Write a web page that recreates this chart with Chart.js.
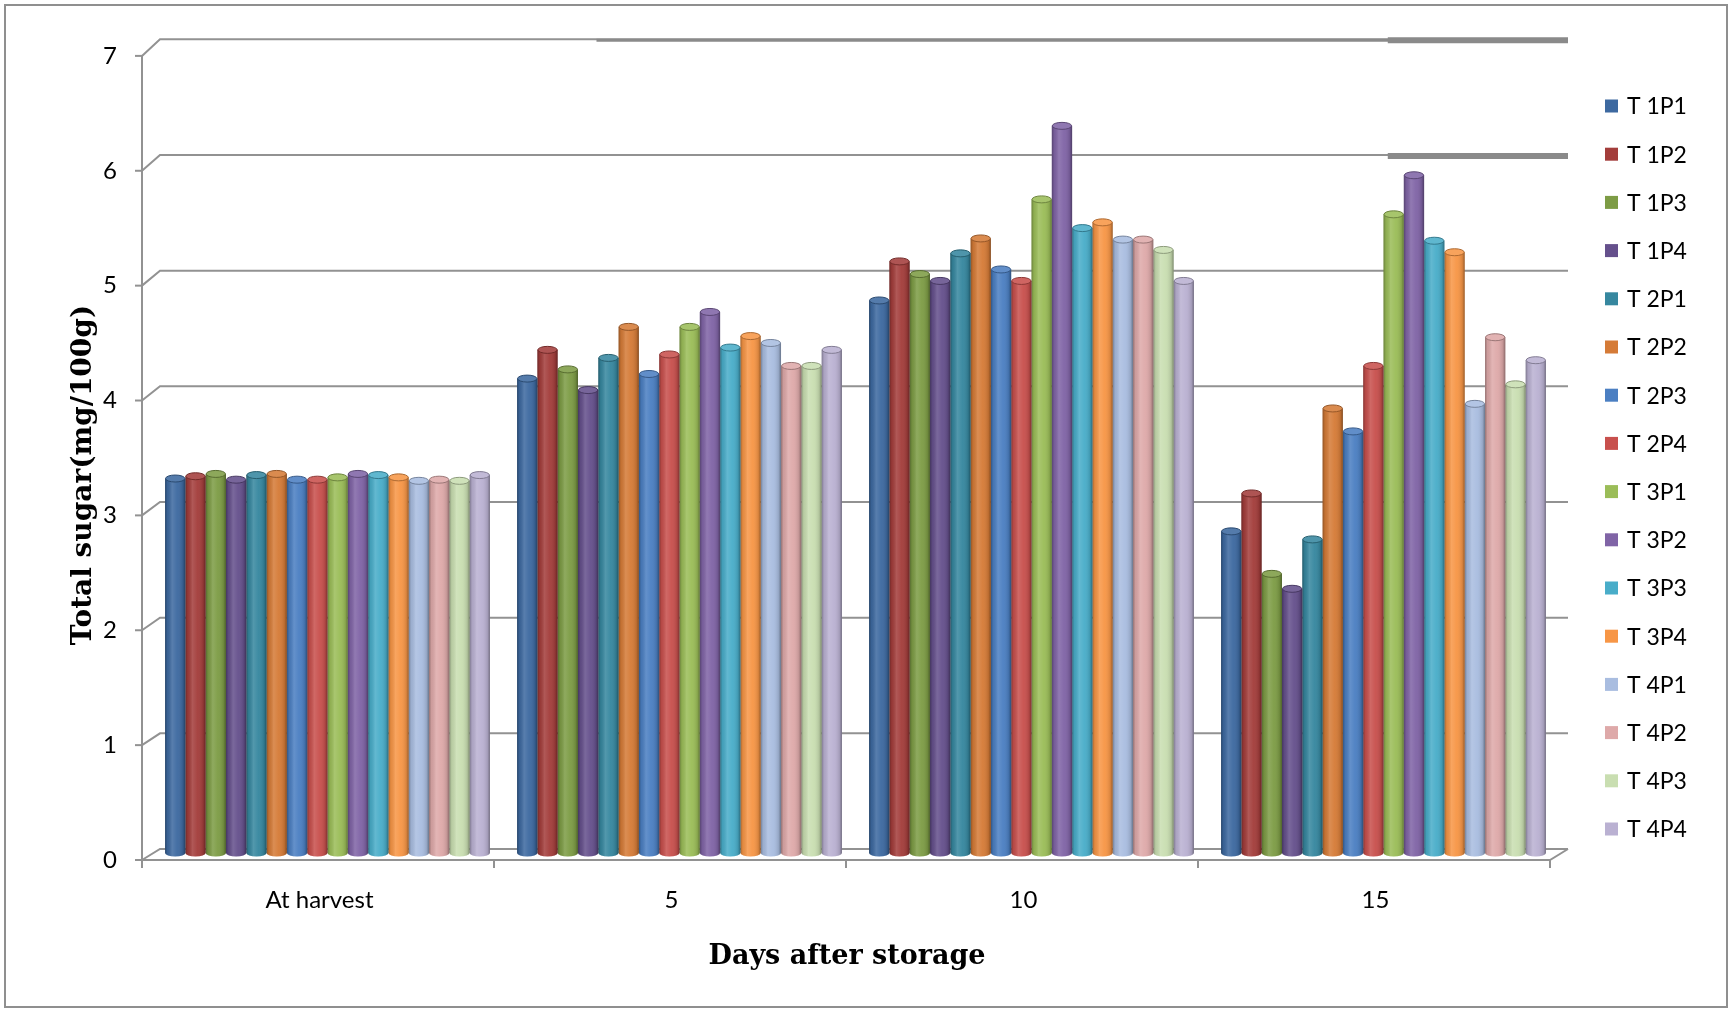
<!DOCTYPE html>
<html>
<head>
<meta charset="utf-8">
<title>Total sugar during storage</title>
<script src="https://cdn.jsdelivr.net/npm/chart.js@4.4.1/dist/chart.umd.min.js"></script>
<style>
  html, body { margin: 0; padding: 0; background: #ffffff; }
  canvas { display: block; }
</style>
</head>
<body>
<canvas id="sugarChart" width="1732" height="1013"></canvas>
<script>
// Storage days (category axis)
const categories = ['At harvest', '5', '10', '15'];

// Treatment series: total sugar (mg/100g) at each storage time
const seriesNames = ['T 1P1', 'T 1P2', 'T 1P3', 'T 1P4', 'T 2P1', 'T 2P2', 'T 2P3', 'T 2P4',
                     'T 3P1', 'T 3P2', 'T 3P3', 'T 3P4', 'T 4P1', 'T 4P2', 'T 4P3', 'T 4P4'];
const t1p1 = [3.26, 4.13, 4.81, 2.80];
const t1p2 = [3.28, 4.38, 5.15, 3.13];
const t1p3 = [3.30, 4.21, 5.04, 2.43];
const t1p4 = [3.25, 4.03, 4.98, 2.30];
const t2p1 = [3.29, 4.31, 5.22, 2.73];
const t2p2 = [3.30, 4.58, 5.35, 3.87];
const t2p3 = [3.25, 4.17, 5.08, 3.67];
const t2p4 = [3.25, 4.34, 4.98, 4.24];
const t3p1 = [3.27, 4.58, 5.69, 5.56];
const t3p2 = [3.30, 4.71, 6.33, 5.90];
const t3p3 = [3.29, 4.40, 5.44, 5.33];
const t3p4 = [3.27, 4.50, 5.49, 5.23];
const t4p1 = [3.24, 4.44, 5.34, 3.91];
const t4p2 = [3.25, 4.24, 5.34, 4.49];
const t4p3 = [3.24, 4.24, 5.25, 4.08];
const t4p4 = [3.29, 4.38, 4.98, 4.29];
const seriesValues = [t1p1, t1p2, t1p3, t1p4, t2p1, t2p2, t2p3, t2p4,
                      t3p1, t3p2, t3p3, t3p4, t4p1, t4p2, t4p3, t4p4];

// Value axis ticks
const yTicks = [0, 1, 2, 3, 4, 5, 6, 7];

const seriesColors = ['#3d69a0', '#a33d3b', '#7d9c45', '#65508c', '#36879f', '#d57b37',
                      '#4b7fc2', '#c8504d', '#9bbd58', '#8064a6', '#49adc9', '#f79646',
                      '#a9bde0', '#dea9a9', '#c9deb1', '#bab1d2'];

const yTitle = 'Total sugar(mg/100g)';
const xTitle = 'Days after storage';

// Drawing style for the shallow 3-D box around the plot
const depth = { frontDx: -9.5, frontDy: 7, backDx: 8.5, backDy: -4, backTilt: -0.8 };
const wallLine = '#929292';
const capRadius = 3.5;
const legendBox = { x: 1605, y0: 106, step: 48.2, size: 13, gap: 9 };

function backY(y, v) {
  return y.getPixelForValue(v) + depth.backDy + depth.backTilt * v;
}

function shade(hex, amt) {
  const n = parseInt(hex.slice(1), 16);
  const r = (n >> 16) & 255, g = (n >> 8) & 255, b = n & 255;
  const f = c => Math.max(0, Math.min(255, Math.round(amt >= 0 ? c + (255 - c) * amt : c * (1 + amt))));
  return `rgb(${f(r)},${f(g)},${f(b)})`;
}

// Back wall, floor and front axes
const wallPlugin = {
  id: 'wall3d',
  beforeDatasetsDraw(chart) {
    const { ctx, chartArea: a, scales: { x, y } } = chart;
    const y0 = y.getPixelForValue(0);
    ctx.save();
    ctx.lineCap = 'butt';
    ctx.strokeStyle = wallLine;
    ctx.lineWidth = 2;
    yTicks.forEach(v => {
      const py = y.getPixelForValue(v);
      const by = backY(y, v);
      ctx.beginPath();
      ctx.moveTo(a.left + depth.frontDx, py + depth.frontDy);
      ctx.lineTo(a.left + depth.backDx, by);
      ctx.lineTo(a.right + depth.backDx, by);
      ctx.stroke();
      ctx.beginPath();
      ctx.moveTo(a.left + depth.frontDx - 7, py + depth.frontDy);
      ctx.lineTo(a.left + depth.frontDx, py + depth.frontDy);
      ctx.stroke();
    });
    // heavier rails along the top of the back wall
    const wallW = a.right - a.left;
    const topY = backY(y, 7);
    const sixY = backY(y, 6);
    ctx.strokeStyle = '#8a8a8a';
    ctx.lineWidth = 3;
    ctx.beginPath();
    ctx.moveTo(a.left + depth.backDx + wallW * 0.31, topY + 1);
    ctx.lineTo(a.right + depth.backDx, topY + 1);
    ctx.stroke();
    ctx.lineWidth = 6;
    [topY, sixY].forEach(py => {
      ctx.beginPath();
      ctx.moveTo(a.left + depth.backDx + wallW * 0.872, py + 1);
      ctx.lineTo(a.right + depth.backDx, py + 1);
      ctx.stroke();
    });
    // front value axis and floor edge
    ctx.strokeStyle = wallLine;
    ctx.lineWidth = 2;
    ctx.beginPath();
    ctx.moveTo(a.left + depth.frontDx, y.getPixelForValue(7) + depth.frontDy);
    ctx.lineTo(a.left + depth.frontDx, y0 + depth.frontDy);
    ctx.lineTo(a.right + depth.frontDx, y0 + depth.frontDy);
    ctx.lineTo(a.right + depth.backDx, backY(y, 0));
    ctx.stroke();
    // category separators on the front edge
    const n = categories.length;
    for (let i = 0; i <= n; i++) {
      const px = a.left + depth.frontDx + (a.right - a.left) * i / n;
      ctx.beginPath();
      ctx.moveTo(px, y0 + depth.frontDy);
      ctx.lineTo(px, y0 + depth.frontDy + 8);
      ctx.stroke();
    }
    ctx.restore();
  },
  afterDatasetsDraw(chart) {
    const { ctx } = chart;
    ctx.save();
    chart.data.datasets.forEach((ds, di) => {
      const meta = chart.getDatasetMeta(di);
      const col = seriesColors[di];
      meta.data.forEach(bar => {
        const { x, y, base, width } = bar.getProps(['x', 'y', 'base', 'width'], true);
        const l = x - width / 2;
        const body = ctx.createLinearGradient(l, 0, l + width, 0);
        body.addColorStop(0, 'rgba(0,0,0,0.32)');
        body.addColorStop(0.12, 'rgba(0,0,0,0.08)');
        body.addColorStop(0.35, 'rgba(255,255,255,0.14)');
        body.addColorStop(0.6, 'rgba(255,255,255,0.04)');
        body.addColorStop(0.88, 'rgba(0,0,0,0.12)');
        body.addColorStop(1, 'rgba(0,0,0,0.38)');
        // rounded foot
        ctx.beginPath();
        ctx.ellipse(x, base, width / 2, capRadius, 0, 0, Math.PI);
        ctx.fillStyle = col;
        ctx.fill();
        ctx.fillStyle = body;
        ctx.fill();
        ctx.fillRect(l, y, width, base - y);
        // cap
        ctx.beginPath();
        ctx.ellipse(x, y, width / 2 - 0.5, capRadius, 0, 0, Math.PI * 2);
        ctx.fillStyle = shade(col, 0.12);
        ctx.fill();
        ctx.lineWidth = 1;
        ctx.strokeStyle = shade(col, -0.3);
        ctx.stroke();
      });
    });
    ctx.restore();
  },
  afterDraw(chart) {
    const { ctx, width, height } = chart;
    ctx.save();
    // frame
    ctx.strokeStyle = '#8f8f8f';
    ctx.lineWidth = 2;
    ctx.strokeRect(5, 5, width - 10, height - 11);
    // axis titles
    ctx.fillStyle = '#000000';
    ctx.textAlign = 'center';
    ctx.textBaseline = 'middle';
    ctx.font = 'bold 27px "DejaVu Serif"';
    ctx.fillText(xTitle, 847, 957);
    ctx.font = 'bold 28px "DejaVu Serif"';
    ctx.translate(84, 475);
    ctx.rotate(-Math.PI / 2);
    ctx.fillText(yTitle, 0, 0);
    ctx.restore();
    // legend
    ctx.save();
    ctx.font = '23px Lato';
    ctx.textAlign = 'left';
    ctx.textBaseline = 'middle';
    chart.data.datasets.forEach((ds, i) => {
      const cy = legendBox.y0 + i * legendBox.step;
      ctx.fillStyle = ds.backgroundColor;
      ctx.fillRect(legendBox.x, cy - legendBox.size / 2, legendBox.size, legendBox.size);
      ctx.fillStyle = '#000000';
      ctx.fillText(ds.label, legendBox.x + legendBox.size + legendBox.gap, cy + 1);
    });
    ctx.restore();
  }
};

const datasets = seriesNames.map((name, i) => ({
  label: name,
  data: seriesValues[i],
  backgroundColor: seriesColors[i],
  borderWidth: 0,
  barPercentage: 1.0,
  categoryPercentage: 0.923
}));

new Chart(document.getElementById('sugarChart'), {
  type: 'bar',
  data: { labels: categories, datasets },
  plugins: [wallPlugin],
  options: {
    responsive: false,
    animation: false,
    devicePixelRatio: 1,
    layout: { padding: { top: 45, right: 172.5, bottom: 0, left: 0 } },
    plugins: {
      legend: { display: false },
      tooltip: { enabled: false },
      title: { display: false }
    },
    scales: {
      x: {
        grid: { display: false, drawTicks: false },
        border: { display: false },
        ticks: {
          color: '#000000',
          font: { family: 'Lato', size: 24 },
          padding: 33,
          labelOffset: -8,
          maxRotation: 0,
          autoSkip: false
        },
        afterFit(scale) { scale.height = 160; }
      },
      y: {
        min: 0,
        max: 7,
        grid: { display: false, drawTicks: false },
        border: { display: false },
        ticks: {
          stepSize: 1,
          color: '#000000',
          font: { family: 'Lato', size: 24 },
          padding: 34.5,
          labelOffset: 7
        },
        afterFit(scale) { scale.width = 151.5; }
      }
    }
  }
});
</script>
</body>
</html>
